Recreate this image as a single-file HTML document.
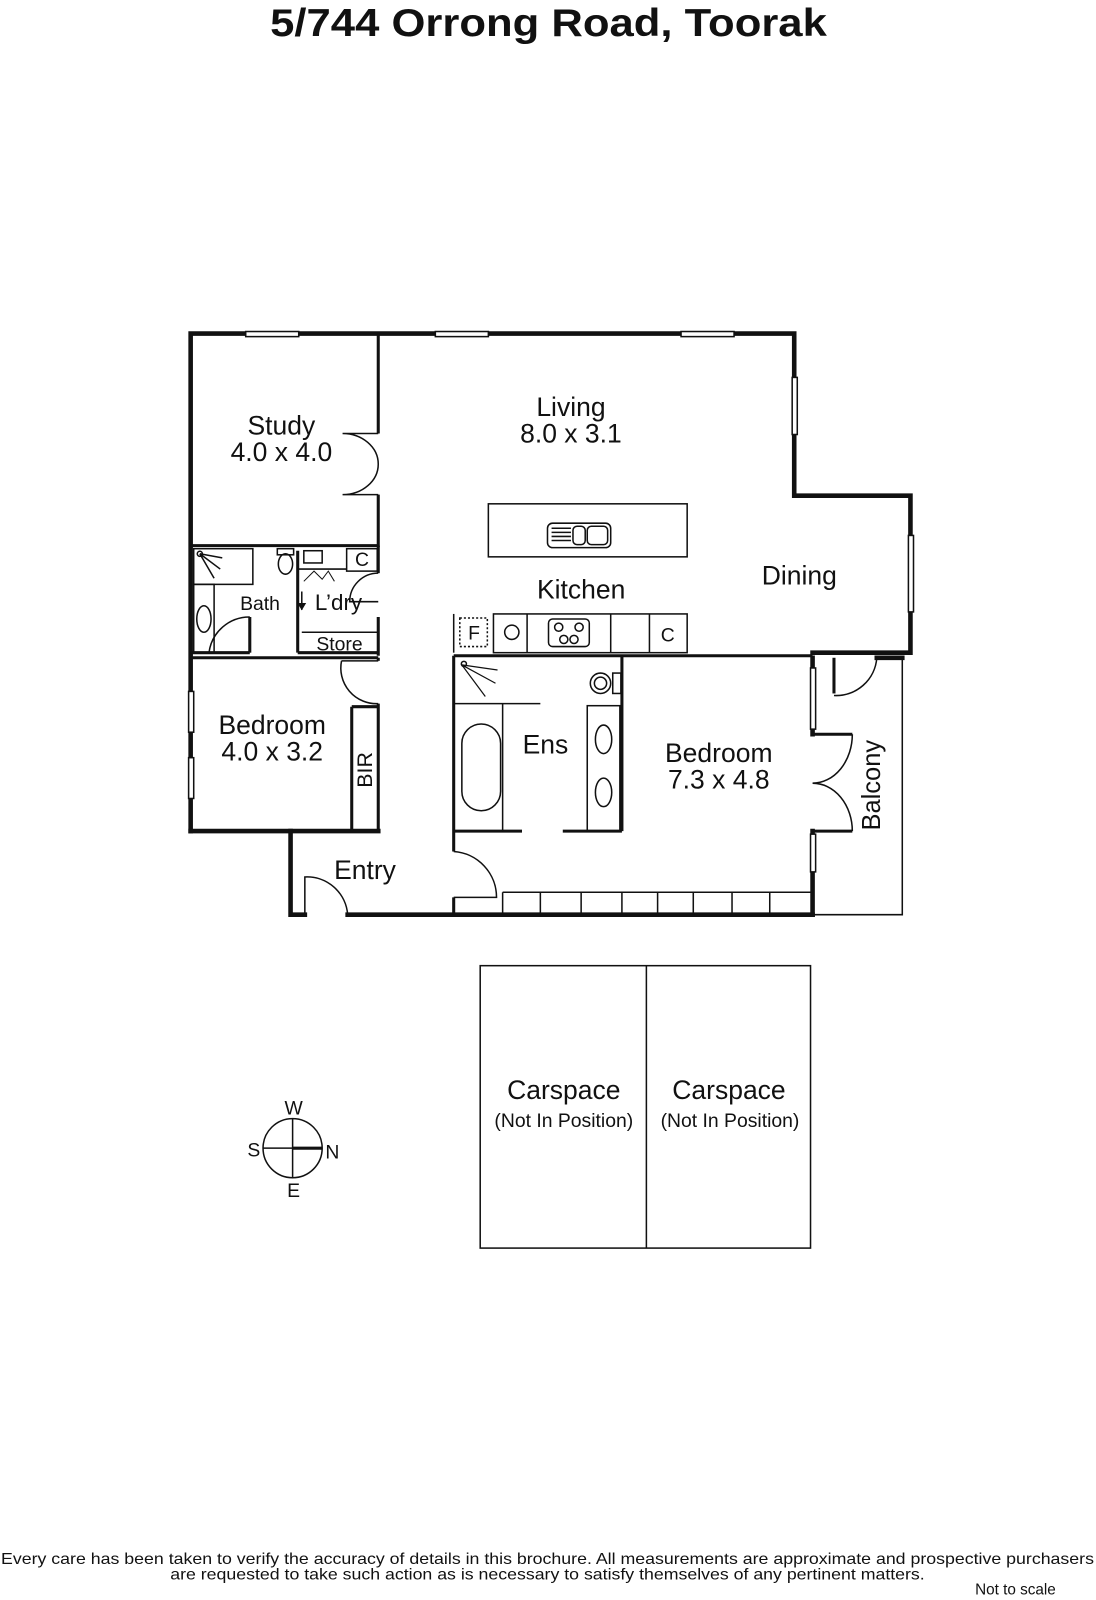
<!DOCTYPE html>
<html><head><meta charset="utf-8"><style>
html,body{margin:0;padding:0;background:#fff;}
svg{display:block;}
text{font-family:"Liberation Sans",sans-serif;fill:#111;}
</style></head><body>
<svg width="1096" height="1600" viewBox="0 0 1075 1569" xmlns="http://www.w3.org/2000/svg">
<text x="538" y="35" font-size="38" font-weight="bold" text-anchor="middle" textLength="546" lengthAdjust="spacingAndGlyphs">5/744 Orrong Road, Toorak</text>
<g stroke="#111" fill="none">
<g stroke-width="4.5" stroke-linecap="square">
<polyline points="187,815 187,327 779,327 779,486 893,486 893,640 797,640"/>
<line x1="187" y1="815" x2="371" y2="815"/>
<polyline points="285,815 285,897 299,897"/>
<line x1="341" y1="897" x2="797" y2="897"/>
<line x1="797" y1="645" x2="797" y2="720"/>
<line x1="797" y1="815" x2="797" y2="897"/>
<line x1="860" y1="645" x2="885" y2="645"/>
</g>
<g stroke-width="3">
<polyline points="371,327 371,425"/>
<polyline points="371,485 371,535 187,535"/>
<line x1="371" y1="535" x2="371" y2="562"/>
<line x1="371" y1="605" x2="371" y2="643"/>
<line x1="187" y1="640" x2="245" y2="640"/>
<polyline points="245,640 245,605"/>
<line x1="292" y1="640" x2="371" y2="640"/>
<line x1="292" y1="540" x2="292" y2="640"/>
<line x1="187" y1="645" x2="371" y2="645"/>
<line x1="371" y1="645" x2="371" y2="648"/>
<line x1="371" y1="690" x2="371" y2="815"/>
<line x1="345" y1="693" x2="345" y2="815"/>
<line x1="345" y1="693" x2="371" y2="693"/>
<line x1="445" y1="643" x2="445" y2="835"/>
<line x1="445" y1="880" x2="445" y2="897"/>
<line x1="445" y1="643" x2="797" y2="643"/>
<line x1="610" y1="643" x2="610" y2="815"/>
<line x1="445" y1="815" x2="512" y2="815"/>
<line x1="552" y1="815" x2="610" y2="815"/>
<line x1="818" y1="645" x2="818" y2="680"/>
<line x1="797" y1="720" x2="836" y2="720"/>
<line x1="797" y1="815" x2="836" y2="815"/>
</g>
<g stroke-width="1.5">
<polyline points="860,645 885,645 885,897 797,897"/>
<rect x="241" y="325" width="52" height="5" fill="#fff"/>
<rect x="427" y="325" width="52" height="5" fill="#fff"/>
<rect x="668" y="325" width="52" height="5" fill="#fff"/>
<rect x="777" y="370" width="5" height="56" fill="#fff"/>
<rect x="891" y="525" width="5" height="75" fill="#fff"/>
<rect x="185" y="678" width="5" height="40" fill="#fff"/>
<rect x="185" y="743" width="5" height="40" fill="#fff"/>
<rect x="795" y="655" width="5" height="60" fill="#fff"/>
<rect x="795" y="818" width="5" height="37" fill="#fff"/>
<path d="M371,425 L336,425 A35,30 0 0 1 371,455 A35,30 0 0 1 336,485 L371,485"/>
<path d="M371,562 A28,28 0 0 0 343,590 L371,590"/>
<path d="M245,605 A40,40 0 0 0 205,640"/>
<path d="M335,648 A35,35 0 0 0 371,690 M335,648 L371,648"/>
<path d="M445,835 A45,45 0 0 1 487,880 L445,880"/>
<path d="M299,897 L299,860 A40,40 0 0 1 341,897"/>
<path d="M860,645 A40,40 0 0 1 818,682"/>
<path d="M836,720 A39,48 0 0 1 797,768 A39,47 0 0 1 836,815"/>
<rect x="190" y="538" width="58" height="35"/>
<path d="M196,543 L218,547 M196,543 L216,558 M196,543 L210,567"/>
<circle cx="196" cy="543" r="2.5"/>
<rect x="190" y="573" width="20" height="67"/>
<ellipse cx="200" cy="607" rx="7" ry="13"/>
<ellipse cx="280" cy="553" rx="7" ry="10"/>
<rect x="272" y="538" width="16" height="6"/>
<rect x="298" y="540" width="18" height="12"/>
<line x1="292" y1="558" x2="340" y2="558"/>
<rect x="340" y="538" width="30" height="22"/>
<path d="M298,570 L308,560 L316,568 L322,560 L328,570" stroke-width="1"/>
<line x1="296" y1="620" x2="371" y2="620"/>
<line x1="296" y1="580" x2="296" y2="598"/>
<path d="M293,592 L299,592 L296,597 Z" fill="#111"/>
<rect x="479" y="494" width="195" height="52"/>
<rect x="537" y="513" width="62" height="24" rx="5"/>
<line x1="541" y1="518" x2="560" y2="518"/><line x1="541" y1="522" x2="560" y2="522"/><line x1="541" y1="526" x2="560" y2="526"/><line x1="541" y1="530" x2="560" y2="530"/>
<rect x="562" y="516" width="12" height="18" rx="4"/>
<rect x="576" y="516" width="20" height="18" rx="4"/>
<line x1="445" y1="602" x2="445" y2="640"/>
<rect x="484" y="602" width="190" height="38"/>
<rect x="451" y="606" width="27" height="28" stroke-dasharray="2,2"/>
<line x1="517" y1="602" x2="517" y2="640"/><line x1="599" y1="602" x2="599" y2="640"/><line x1="637" y1="602" x2="637" y2="640"/>
<circle cx="502" cy="620" r="7"/>
<rect x="538" y="607" width="40" height="27" rx="4"/>
<circle cx="548" cy="615" r="4"/><circle cx="568" cy="615" r="4"/><circle cx="553" cy="627" r="4"/><circle cx="563" cy="627" r="4"/>
<line x1="445" y1="690" x2="530" y2="690"/>
<line x1="493" y1="690" x2="493" y2="815"/>
<rect x="453" y="710" width="38" height="85" rx="19"/>
<path d="M453,652 L488,657 M453,652 L486,670 M453,652 L476,683" stroke-width="1.2"/>
<circle cx="455" cy="651" r="2.5"/>
<ellipse cx="589" cy="670" rx="10" ry="10"/>
<ellipse cx="589" cy="670" rx="6" ry="6"/>
<rect x="601" y="660" width="8" height="20"/>
<rect x="576" y="692" width="32" height="123"/>
<ellipse cx="592" cy="725" rx="8" ry="14"/>
<ellipse cx="592" cy="777" rx="8" ry="14"/>
<line x1="493" y1="875" x2="797" y2="875"/>
<line x1="493" y1="875" x2="493" y2="897"/><line x1="530" y1="875" x2="530" y2="897"/><line x1="570" y1="875" x2="570" y2="897"/><line x1="610" y1="875" x2="610" y2="897"/><line x1="645" y1="875" x2="645" y2="897"/><line x1="680" y1="875" x2="680" y2="897"/><line x1="718" y1="875" x2="718" y2="897"/><line x1="755" y1="875" x2="755" y2="897"/>
<rect x="471" y="947" width="324" height="277"/>
<line x1="634" y1="947" x2="634" y2="1224"/>
<circle cx="287" cy="1126" r="29"/>
<line x1="287" y1="1097" x2="287" y2="1155"/>
<line x1="258" y1="1126" x2="287" y2="1126"/>
<line x1="287" y1="1126" x2="316" y2="1126" stroke-width="3"/>
</g>
</g>
<g font-size="26" text-anchor="middle">
<text x="276" y="426">Study</text><text x="276" y="452">4.0 x 4.0</text>
<text x="560" y="408">Living</text><text x="560" y="434">8.0 x 3.1</text>
<text x="784" y="573">Dining</text>
<text x="570" y="587">Kitchen</text>
<text x="267" y="720">Bedroom</text><text x="267" y="746">4.0 x 3.2</text>
<text x="535" y="739">Ens</text>
<text x="705" y="747">Bedroom</text><text x="705" y="773">7.3 x 4.8</text>
<text x="358" y="862">Entry</text>
<text x="553" y="1078">Carspace</text>
<text x="715" y="1078">Carspace</text>
</g>
<g font-size="19" text-anchor="middle">
<text x="255" y="598">Bath</text>
<text x="332" y="598" font-size="22">L’dry</text>
<text x="333" y="638">Store</text>
<text x="355" y="555">C</text>
<text x="465" y="627">F</text>
<text x="655" y="629">C</text>
<text x="553" y="1105">(Not In Position)</text>
<text x="716" y="1105">(Not In Position)</text>
<text x="288" y="1093">W</text>
<text x="249" y="1134">S</text>
<text x="326" y="1136">N</text>
<text x="288" y="1174">E</text>
<text transform="translate(365,755) rotate(-90)" font-size="21">BIR</text>
<text transform="translate(863,770) rotate(-90)" font-size="25">Balcony</text>
</g>
<g font-size="15" text-anchor="middle">
<text x="537" y="1534" textLength="1072" lengthAdjust="spacingAndGlyphs">Every care has been taken to verify the accuracy of details in this brochure.  All measurements are approximate and prospective purchasers</text>
<text x="537" y="1549" textLength="740" lengthAdjust="spacingAndGlyphs">are requested to take such action as is necessary to satisfy themselves of any pertinent matters.</text>
<text x="996" y="1564">Not to scale</text>
</g>
</svg>
</body></html>
